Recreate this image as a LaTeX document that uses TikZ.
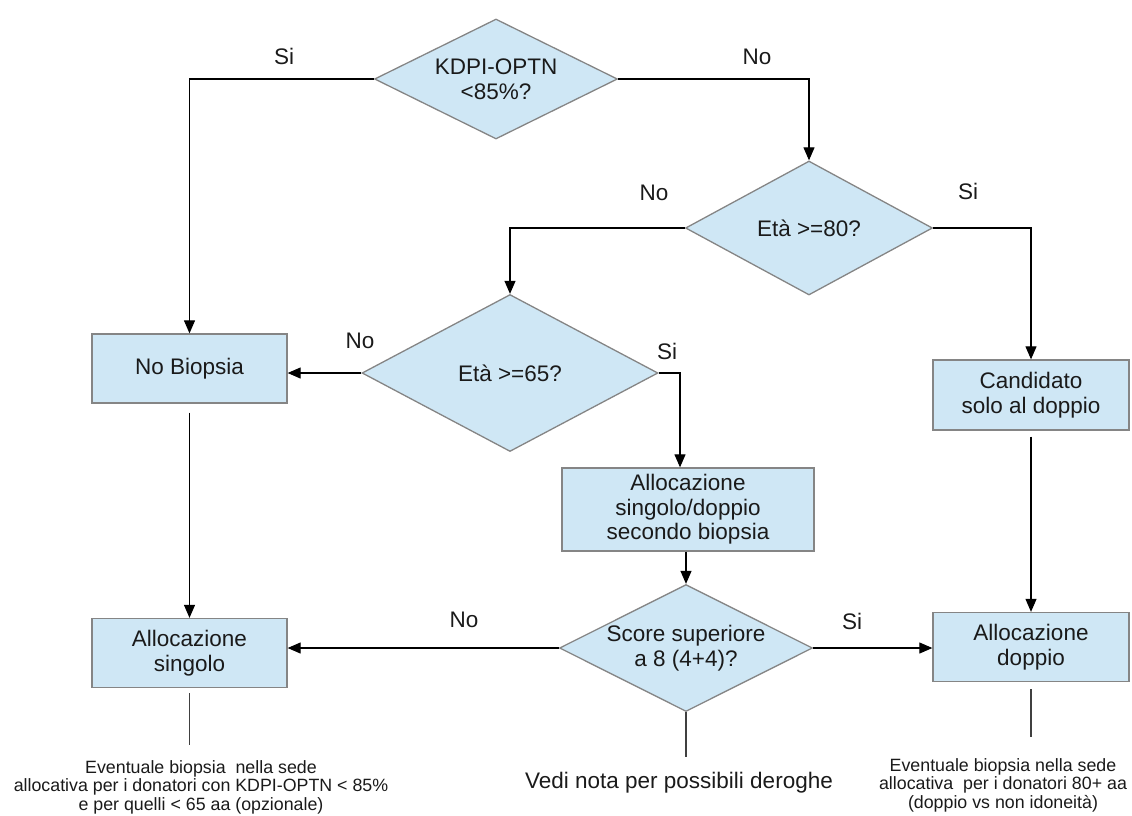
\documentclass[tikz,border=0pt]{standalone}
\usepackage{fontspec}
\setmainfont{Liberation Sans}
\usetikzlibrary{arrows.meta,shapes.geometric}
\definecolor{boxblue}{HTML}{CFE7F5}
\definecolor{edgegray}{HTML}{858585}
\definecolor{ink}{HTML}{1A1A1A}
\newcommand{\mainsz}{\fontsize{22.5}{24.5}\selectfont}
\newcommand{\notesz}{\fontsize{17.8}{18.7}\selectfont}
\tikzset{
  dia/.style={diamond, draw=edgegray, line width=1.3pt, fill=boxblue, inner sep=0pt, aspect=2, align=center, font=\mainsz, text=ink},
  flowbox/.style={rectangle, draw=edgegray, line width=1.3pt, fill=boxblue, inner sep=0pt, align=center, font=\mainsz, text=ink},
  conn/.style={draw=black, line width=1.1pt, -{Triangle[length=13pt,width=11pt]}},
  plainline/.style={draw=black!75, line width=1.1pt},
  lab/.style={font=\mainsz, text=ink, inner sep=0pt},
  note/.style={font=\notesz, text=ink, inner sep=0pt, align=center}
}
\begin{document}
\begin{tikzpicture}[x=1pt,y=-1pt]
\useasboundingbox (0,0) rectangle (1132,815);

% decisions
\node[dia, minimum width=243pt, minimum height=120pt] (kdpi) at (496,79) {KDPI-OPTN\\<85\%?};
\node[dia, minimum width=247pt, minimum height=134pt] (e80) at (809,228) {Età >=80?};
\node[dia, minimum width=296pt, minimum height=157pt] (e65) at (510,373) {Età >=65?};
\node[dia, minimum width=253pt, minimum height=127pt] (score) at (686,648) {Score superiore\\a 8 (4+4)?};

% boxes
\node[flowbox, minimum width=195pt, minimum height=69pt] (nobio) at (189.5,368.5) {No Biopsia};
\node[flowbox, minimum width=195pt, minimum height=69pt] (asing) at (189.5,653) {Allocazione\\singolo};
\node[flowbox, minimum width=196pt, minimum height=70pt] (cand) at (1031,395) {Candidato\\solo al doppio};
\node[flowbox, minimum width=252pt, minimum height=83pt] (asd) at (688,509.5) {Allocazione\\singolo/doppio\\secondo biopsia};
\node[flowbox, minimum width=196pt, minimum height=69pt] (adop) at (1031,647) {Allocazione\\doppio};

% connectors
\draw[conn] (kdpi.west) -| (nobio.north);
\draw[conn] (kdpi.east) -| (e80.north);
\draw[conn] (e80.west) -| (e65.north);
\draw[conn] (e80.east) -| (cand.north);
\draw[conn] (e65.west) -- (e65.west -| nobio.east);
\coordinate (asdin) at ([xshift=-8pt]asd.north);
\draw[conn] (e65.east) -| (asdin);
\draw[conn, shorten <=9pt] (nobio.south) -- (asing.north);
\draw[conn] (asd.south -| score.north) -- (score.north);
\draw[conn, shorten <=6pt] (cand.south) -- (adop.north);
\draw[conn] (score.west) -- (score.west -| asing.east);
\draw[conn] (score.east) -- (score.east -| adop.west);

% dangling lines
\coordinate (endL) at (189.5,745);
\coordinate (endM) at (686,757);
\coordinate (endR) at (1031,737);
\draw[plainline] ([yshift=-5pt]asing.south) -- (endL);
\draw[plainline] (score.south) -- (endM);
\draw[plainline] ([yshift=-7pt]adop.south) -- (endR);

% branch labels
\node[lab] (si1) at (284,56) {Si};
\node[lab] (no1) at (757,57) {No};
\node[lab] (no2) at (654,193) {No};
\node[lab] (si2) at (968,191) {Si};
\node[lab] (no3) at (360,341) {No};
\node[lab] (si3) at (667,351) {Si};
\node[lab] (no4) at (464,620) {No};
\node[lab] (si4) at (852,621) {Si};

% notes
\node[note, anchor=north] (noteL) at (201,760) {Eventuale biopsia\ \ nella sede\\allocativa per i donatori con KDPI-OPTN < 85\%\\e per quelli < 65 aa (opzionale)};
\node[note, anchor=north] (noteR) at (1003,758) {Eventuale biopsia nella sede\\allocativa\ \ per i donatori 80+ aa\\(doppio vs non idoneità)};
\node[lab, anchor=base] (noteM) at (679,788) {Vedi nota per possibili deroghe};
\end{tikzpicture}
\end{document}
